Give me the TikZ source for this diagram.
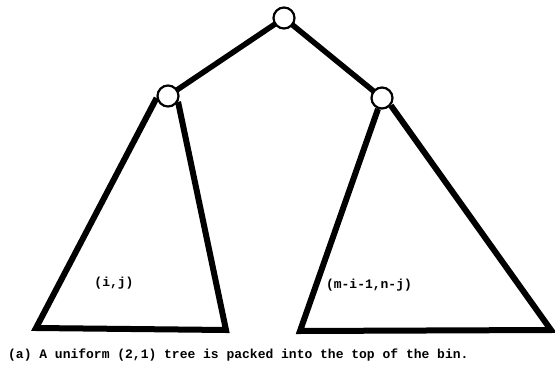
\documentclass[tikz,border=0pt]{standalone}
\usepackage{fontspec}
\setmonofont{Liberation Mono}
\usepackage{tikz}
\usetikzlibrary{positioning, calc}

\begin{document}
\begin{tikzpicture}[
    x=1pt, y=-1pt,
    vertex/.style={draw, circle, fill=white, inner sep=0pt, minimum size=21pt, line width=2.2pt},
    edge/.style={line width=5.5pt},
    side/.style={line width=6pt, line join=miter},
    lbl/.style={font=\ttfamily\bfseries\fontsize{13}{15}\selectfont, inner sep=0pt}
]
    \useasboundingbox (0,0) rectangle (555,375);
    % tree nodes
    \coordinate (r) at (284,18);
    \coordinate (l) at (168,96);
    \coordinate (rr) at (382,98);
    \draw[edge] (r) -- (l);
    \draw[edge] (r) -- (rr);
    \node[vertex] (root) at (r) {};
    \node[vertex] (lchild) at (l) {};
    \node[vertex] (rchild) at (rr) {};
    % subtrees
    \coordinate (lbl) at (36,328);
    \coordinate (lbr) at (226,330);
    \coordinate (rbl) at (300,331);
    \coordinate (rbr) at (551,330);
    \draw[side] (lchild.190) -- (lbl) -- (lbr) -- (lchild.-30);
    \draw[side] (rchild.-110) -- (rbl) -- (rbr) -- (rchild.-40);
    \node[lbl] (ltag) at (114,283) {(i,j)};
    \node[lbl] (rtag) at (369,285) {(m-i-1,n-j)};
    \node[lbl, anchor=west] (caption) at (8,355) {(a) A uniform (2,1) tree is packed into the top of the bin.};
\end{tikzpicture}
\end{document}
